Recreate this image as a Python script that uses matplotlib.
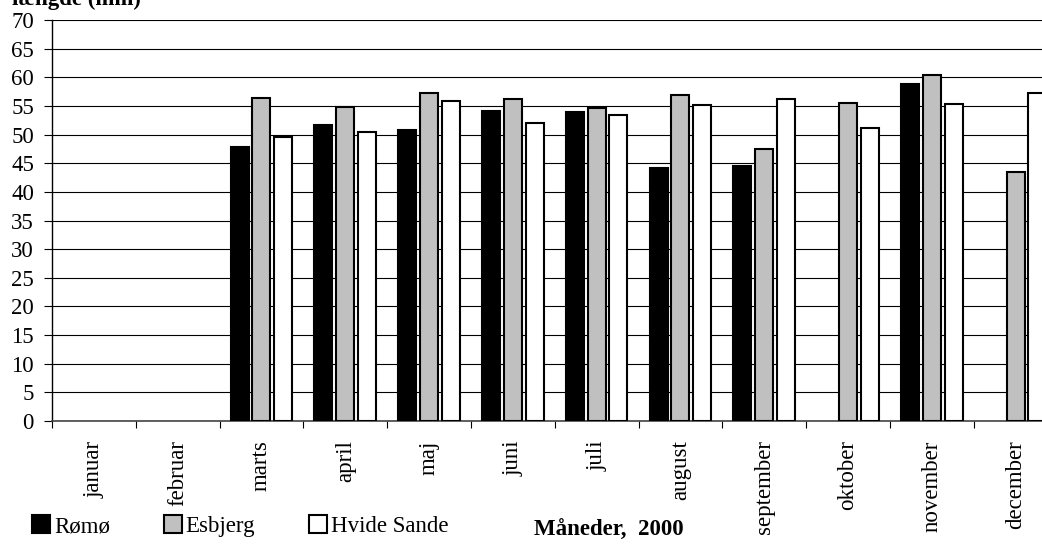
import numpy as np
import matplotlib
matplotlib.use('Agg')
import matplotlib.pyplot as plt
from matplotlib.patches import Patch

months = ['januar', 'februar', 'marts', 'april', 'maj', 'juni', 'juli',
          'august', 'september', 'oktober', 'november', 'december']
romo = [None, None, 47.9, 51.7, 50.8, 54.1, 53.9, 44.2, 44.6, None, 58.8, None]
esbjerg = [None, None, 56.4, 54.8, 57.3, 56.3, 54.6, 56.9, 47.4, 55.5, 60.4, 43.5]
hvide = [None, None, 49.6, 50.4, 55.9, 52.1, 53.5, 55.1, 56.2, 51.2, 55.3, 57.2]
yticks = list(range(0, 75, 5))

plt.rcParams['font.family'] = ['Liberation Serif', 'DejaVu Serif']

fig = plt.figure(figsize=(10.42, 5.46), dpi=100)
ax = fig.add_axes([0.0499, 0.2289, 0.965, 0.7344])

series = [(romo, 'black', 'Rømø', -0.26),
          (esbjerg, '#c0c0c0', 'Esbjerg', 0.0),
          (hvide, 'white', 'Hvide Sande', 0.26)]
for vals, col, name, off in series:
    xs = [i + 0.5 + off for i, v in enumerate(vals) if v is not None]
    hs = [v for v in vals if v is not None]
    ax.bar(xs, hs, width=0.215, color=col, edgecolor='black', linewidth=1.5, zorder=3)

ax.set_xlim(0, 12)
ax.set_ylim(0, 70)
ax.set_yticks(yticks)
ax.yaxis.grid(True, color='black', linewidth=0.8, zorder=0)
ax.set_axisbelow(True)

ax.set_xticks([i + 0.5 for i in range(12)])
ax.set_xticklabels(months, rotation=90, va='top', ha='center')
ax.set_xticks(range(13), minor=True)
ax.tick_params(axis='x', which='major', length=0, pad=14, labelsize=16.5)
ax.tick_params(axis='x', which='minor', length=5, width=0.8, direction='out')
ax.tick_params(axis='y', length=6, width=0.8, pad=7, labelsize=16.5)

for s in ['top', 'right']:
    ax.spines[s].set_visible(False)
ax.spines['left'].set_linewidth(1.0)
ax.spines['bottom'].set_linewidth(1.2)
ax.spines['bottom'].set_color('#444444')

fig.text(0.0115, 0.991, 'længde (mm)', fontsize=16.5, fontweight='bold',
         ha='left', va='baseline')
fig.text(0.584, 0.028, 'Måneder,  2000', fontsize=16.5, fontweight='bold',
         ha='center', va='center')

handles = [Patch(facecolor=c, edgecolor='black', linewidth=1.5, label=n)
           for _, c, n, _ in series]
fig.legend(handles=handles, loc='center left', bbox_to_anchor=(0.022, 0.036),
           ncol=3, frameon=False, fontsize=16.5, handlelength=0.8,
           handleheight=0.8, handletextpad=0.15, columnspacing=2.35,
           borderaxespad=0)

fig.savefig('out.png', dpi=100)
